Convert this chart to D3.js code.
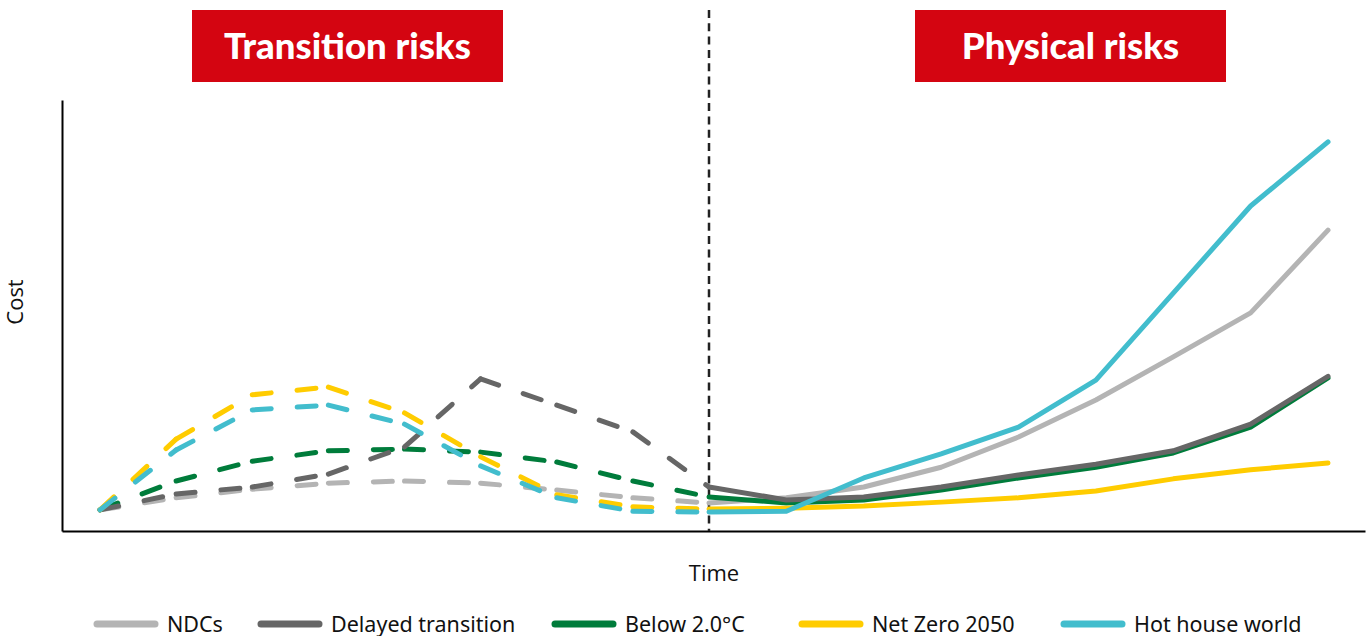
<!DOCTYPE html>
<html>
<head>
<meta charset="utf-8">
<script src="https://cdn.jsdelivr.net/npm/d3@7"></script>
<style>
  html, body { margin: 0; padding: 0; background: #fff; }
  svg { display: block; }
</style>
</head>
<body>
<div id="chart"></div>
<script>
// time steps 0..16, step 8 is "today" (split between transition and physical)
const timeSteps = d3.range(0, 17);
const splitStep = 8;

const seriesNames = ["NDCs", "Delayed transition", "Below 2.0\u00B0C", "Net Zero 2050", "Hot house world"];
const seriesColors = ["#b4b4b4", "#666666", "#007c3b", "#ffcc00", "#42bdcd"];

// cost values (arbitrary units, 0..100)
const ndcs      = [4.9, 7.7, 9.7, 11.1, 11.6, 11.1, 9.5, 7.7, 6.5, 7.7, 10.2, 14.8, 21.8, 30.4, 40.4, 50.6, 69.8];
const delayed   = [4.9, 8.6, 10.2, 13.2, 19.5, 35.3, 29.2, 23.0, 10.2, 7.2, 7.9, 10.2, 13.0, 15.5, 18.6, 24.8, 35.9];
const below2    = [4.9, 11.6, 16.2, 18.6, 19.0, 18.3, 16.0, 11.6, 7.9, 6.5, 7.2, 9.5, 12.3, 14.8, 18.1, 24.1, 35.5];
const netZero   = [4.9, 21.3, 31.6, 33.4, 27.4, 17.2, 8.4, 5.6, 5.1, 5.3, 5.8, 6.7, 7.7, 9.3, 12.1, 14.2, 15.8];
const hotHouse  = [4.9, 18.8, 28.1, 29.2, 24.8, 15.1, 7.7, 4.6, 4.4, 4.6, 12.3, 17.9, 24.1, 35.0, 55.2, 75.4, 90.3];

const panelTitles = ["Transition risks", "Physical risks"];
const xLabel = "Time", yLabel = "Cost";

const W = 1368, H = 636;
const frame = {left: 62, right: 1365, top: 100, bottom: 531};

const seriesValues = [ndcs, delayed, below2, netZero, hotHouse];
// drawing order on the chart (green under the dark grey)
const drawOrder = [0, 2, 1, 3, 4];

const svg = d3.select("#chart").append("svg")
    .attr("width", W)
    .attr("height", H);

const x = d3.scaleLinear()
    .domain([0, splitStep, 16])
    .range([100, 709, 1328]);

const y = d3.scaleLinear()
    .domain([0, 100])
    .range([frame.bottom, frame.top]);

// frame axes (no ticks)
const xFrame = d3.scaleLinear().domain([0, 1]).range([frame.left, frame.right]);

svg.append("g")
    .attr("transform", `translate(0, ${frame.bottom})`)
    .call(d3.axisBottom(xFrame).tickValues([]).tickSizeOuter(0))
    .select(".domain")
    .attr("stroke", "#000")
    .attr("stroke-width", 2);

svg.append("g")
    .attr("transform", `translate(${frame.left}, 0)`)
    .call(d3.axisLeft(y).tickValues([]).tickSizeOuter(0))
    .select(".domain")
    .attr("stroke", "#000")
    .attr("stroke-width", 2);

// today divider
svg.append("line")
    .attr("x1", x(splitStep)).attr("x2", x(splitStep))
    .attr("y1", 10).attr("y2", frame.bottom)
    .attr("stroke", "#222")
    .attr("stroke-width", 2.5)
    .attr("stroke-dasharray", "8,5.3");

// transition part: dashed, dash pattern restarts at each point
drawOrder.forEach(i => {
    const vals = seriesValues[i];
    const segs = d3.range(0, splitStep).map(t => [t, t + 1]);
    svg.append("g")
        .selectAll("line")
        .data(segs)
        .enter()
        .append("line")
        .attr("x1", d => x(d[0]))
        .attr("y1", d => y(vals[d[0]]))
        .attr("x2", d => x(d[1]))
        .attr("y2", d => y(vals[d[1]]))
        .attr("stroke", seriesColors[i])
        .attr("stroke-width", 5)
        .attr("stroke-linecap", "round")
        .attr("stroke-dasharray", "19,26");
});

// physical part: solid
const line = d3.line()
    .x(d => x(d[0]))
    .y(d => y(d[1]));

drawOrder.forEach(i => {
    const vals = seriesValues[i];
    const pts = timeSteps.filter(t => t >= splitStep).map(t => [t, vals[t]]);
    svg.append("path")
        .datum(pts)
        .attr("d", line)
        .attr("fill", "none")
        .attr("stroke", seriesColors[i])
        .attr("stroke-width", 5)
        .attr("stroke-linejoin", "round")
        .attr("stroke-linecap", "round");
});

// header boxes
const boxes = [
    {x: 192, w: 311, cx: 347.5},
    {x: 915, w: 311, cx: 1070.5}
];
boxes.forEach((b, i) => {
    svg.append("rect")
        .attr("x", b.x).attr("y", 10)
        .attr("width", b.w).attr("height", 72)
        .attr("fill", "#d40511");
    svg.append("text")
        .attr("x", b.cx).attr("y", 59)
        .attr("text-anchor", "middle")
        .style("font-family", "Lato, 'Open Sans', sans-serif")
        .style("font-weight", "900")
        .style("font-size", "36.5px")
        .attr("fill", "#fff")
        .text(panelTitles[i]);
});

// axis titles
svg.append("text")
    .attr("x", 714).attr("y", 581)
    .attr("text-anchor", "middle")
    .style("font-family", "'Open Sans', sans-serif")
    .style("font-size", "22px")
    .attr("fill", "#111")
    .text(xLabel);

svg.append("text")
    .attr("transform", "translate(23, 302) rotate(-90)")
    .attr("text-anchor", "middle")
    .style("font-family", "'Open Sans', sans-serif")
    .style("font-size", "22px")
    .attr("fill", "#111")
    .text(yLabel);

// legend
const legendX = [97, 261, 555, 802, 1064];
const legend = svg.append("g")
    .selectAll("g")
    .data(seriesNames)
    .enter()
    .append("g")
    .attr("transform", (d, i) => `translate(${legendX[i]}, 624)`);

legend.append("line")
    .attr("x1", 0).attr("x2", 58)
    .attr("y1", 0).attr("y2", 0)
    .attr("stroke", (d, i) => seriesColors[i])
    .attr("stroke-width", 7)
    .attr("stroke-linecap", "round");

legend.append("text")
    .attr("x", 70).attr("y", 7.5)
    .style("font-family", "'Noto Sans', sans-serif")
    .style("font-size", "21.5px")
    .attr("fill", "#111")
    .text(d => d);
</script>
</body>
</html>
